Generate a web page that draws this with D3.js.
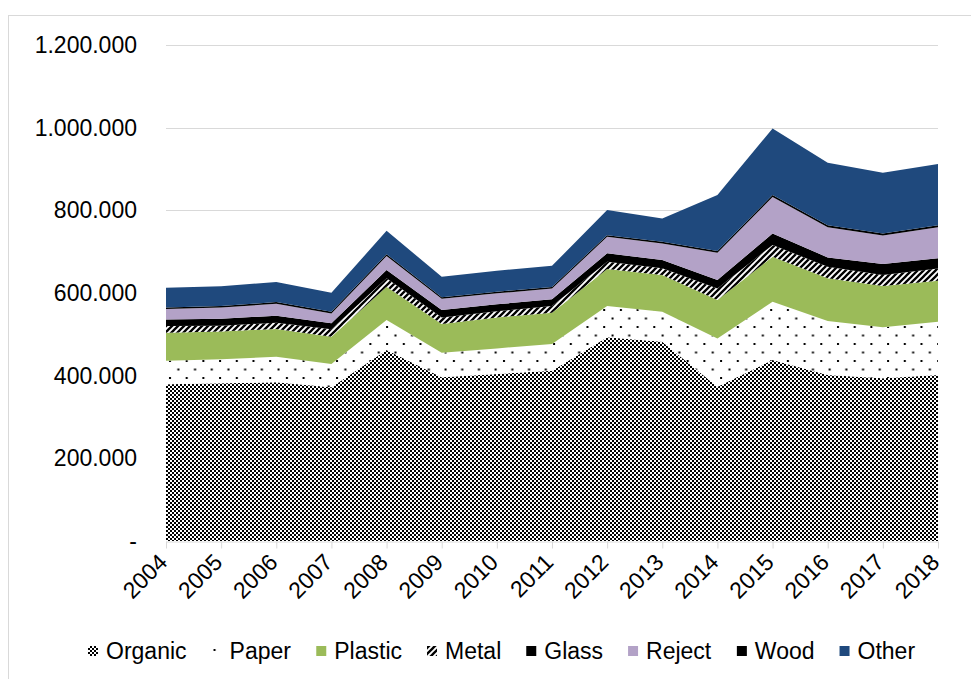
<!DOCTYPE html>
<html>
<head>
<meta charset="utf-8">
<script src="https://cdn.jsdelivr.net/npm/d3@7/dist/d3.min.js"></script>
<style>
  html, body { margin: 0; padding: 0; background: #fff; }
  svg { display: block; font-family: "Liberation Sans", Arial, sans-serif; }
</style>
</head>
<body>
<svg id="chart" width="971" height="679"></svg>
<script>
// Waste collected per year, by fraction
const years = ["2004","2005","2006","2007","2008","2009","2010","2011","2012","2013","2014","2015","2016","2017","2018"];
const organic = [379000, 381500, 384000, 372000, 462000, 396000, 404000, 412000, 492700, 482000, 373000, 438000, 401500, 393600, 401500];
const paper   = [57000, 58000, 62000, 56000, 72600, 59500, 62000, 64500, 75800, 72700, 117000, 141000, 130500, 123400, 129000];
const plastic = [68000, 67500, 67000, 66000, 80400, 69500, 75000, 75500, 89500, 88800, 93000, 108700, 103500, 100000, 99000];
const metal   = [16000, 14000, 15000, 18000, 20500, 16000, 15000, 16500, 17600, 16100, 28000, 28300, 28000, 26500, 29900];
const glass   = [16000, 16700, 17000, 14600, 20000, 17800, 16600, 16200, 20400, 20100, 20400, 28000, 22500, 26500, 24400];
const reject  = [25000, 27000, 29000, 24000, 34000, 27000, 26500, 26000, 40000, 40000, 66000, 88000, 73000, 69000, 75000];
const wood    = [4000, 4000, 4000, 4000, 4000, 4000, 4000, 4000, 4000, 4000, 4000, 5000, 5000, 5000, 5000];
const other   = [48000, 47500, 48500, 46000, 57000, 49500, 51000, 51000, 60700, 56600, 135500, 161000, 151000, 147000, 148000];
const seriesNames = ["Organic","Paper","Plastic","Metal","Glass","Reject","Wood","Other"];
const yTicks = [0, 200000, 400000, 600000, 800000, 1000000, 1200000];

const seriesValues = [organic, paper, plastic, metal, glass, reject, wood, other];
const rows = years.map((y, i) => {
  const r = { year: y };
  seriesNames.forEach((n, k) => { r[n] = seriesValues[k][i]; });
  return r;
});

const svg = d3.select("#chart");
const defs = svg.append("defs");

// Fill patterns
const pOrg = defs.append("pattern").attr("id", "pat-organic")
  .attr("patternUnits", "userSpaceOnUse").attr("width", 4).attr("height", 4);
pOrg.append("rect").attr("width", 4).attr("height", 4).attr("fill", "#fff");
pOrg.append("rect").attr("x", 0).attr("y", 0).attr("width", 2).attr("height", 2).attr("fill", "#000");
pOrg.append("rect").attr("x", 2).attr("y", 2).attr("width", 2).attr("height", 2).attr("fill", "#000");

const pPap = defs.append("pattern").attr("id", "pat-paper")
  .attr("patternUnits", "userSpaceOnUse").attr("width", 16.7).attr("height", 17);
pPap.append("rect").attr("width", 16.7).attr("height", 17).attr("fill", "#fff");
pPap.append("rect").attr("x", 2).attr("y", 3).attr("width", 2).attr("height", 2).attr("fill", "#000");
pPap.append("rect").attr("x", 10.35).attr("y", 11.5).attr("width", 2).attr("height", 2).attr("fill", "#000");

const pMet = defs.append("pattern").attr("id", "pat-metal")
  .attr("patternUnits", "userSpaceOnUse").attr("width", 6).attr("height", 6);
pMet.append("rect").attr("width", 6).attr("height", 6).attr("fill", "#fff");
pMet.append("path").attr("d", "M-1,1 L1,-1 M0,6 L6,0 M5,7 L7,5")
  .attr("stroke", "#000").attr("stroke-width", 2.3);

const fills = {
  Organic: "url(#pat-organic)",
  Paper: "url(#pat-paper)",
  Plastic: "#9bbb59",
  Metal: "url(#pat-metal)",
  Glass: "#000000",
  Reject: "#b3a2c7",
  Wood: "#000000",
  Other: "#1f497d"
};

// Outer frame
svg.append("rect").attr("x", 8.5).attr("y", 15.5).attr("width", 1000).attr("height", 700)
  .attr("fill", "none").attr("stroke", "#d9d9d9").attr("stroke-width", 1);

const x = d3.scalePoint().domain(years).range([166, 938]);
const y = d3.scaleLinear().domain([0, 1200000]).range([541, 45]);

const locale = d3.formatLocale({ decimal: ",", thousands: ".", grouping: [3], currency: ["", ""] });
const fmt = locale.format(",");

// Gridlines
svg.append("g").attr("class", "grid")
  .selectAll("line").data(yTicks.filter(t => t > 0)).join("line")
  .attr("x1", 166).attr("x2", 938)
  .attr("y1", d => Math.round(y(d)) + 0.5).attr("y2", d => Math.round(y(d)) + 0.5)
  .attr("stroke", "#d9d9d9").attr("stroke-width", 1);

// Stacked areas
const stack = d3.stack().keys(seriesNames);
const layers = stack(rows);
const area = d3.area()
  .x(d => x(d.data.year))
  .y0(d => y(d[0]))
  .y1(d => y(d[1]));

svg.append("g").selectAll("path").data(layers).join("path")
  .attr("d", area)
  .attr("fill", d => fills[d.key]);

// Y axis (labels only)
const yAxis = d3.axisLeft(y).tickValues(yTicks)
  .tickFormat(d => d === 0 ? "-" : fmt(d)).tickSize(0).tickPadding(0);
const gy = svg.append("g").attr("transform", "translate(137,0)").call(yAxis);
gy.select(".domain").remove();
gy.selectAll("text").attr("font-size", 23).attr("fill", "#000")
  .attr("font-family", "'Liberation Sans', Arial, sans-serif");

// X axis
const xAxis = d3.axisBottom(x).tickSize(7).tickSizeOuter(0).tickFormat("");
const gx = svg.append("g").attr("transform", "translate(0,541.5)").call(xAxis);
gx.select(".domain").attr("stroke", "#d9d9d9");
gx.selectAll(".tick line").attr("stroke", "#d9d9d9");

svg.append("g").selectAll("text").data(years).join("text")
  .attr("transform", d => `translate(${x(d) - 9},${552}) rotate(-45)`)
  .attr("text-anchor", "end")
  .attr("dy", "0.72em")
  .attr("font-size", 23)
  .attr("fill", "#000")
  .text(d => d);

// Legend
const legendY = 651;
const legend = svg.append("g");
const items = legend.selectAll("g").data(seriesNames).join("g");
items.append("rect").attr("width", 10).attr("height", 10).attr("y", legendY - 5)
  .attr("fill", d => fills[d]);
items.append("text").attr("x", 18).attr("y", legendY).attr("dy", "0.35em")
  .attr("font-size", 23).attr("fill", "#000").text(d => d);
const gap = 25;
const widths = [];
items.each(function() { widths.push(this.getBBox().width); });
let cx = 88;
items.each(function(d, i) {
  d3.select(this).attr("transform", `translate(${cx},0)`);
  cx += widths[i] + gap;
});
</script>
</body>
</html>
